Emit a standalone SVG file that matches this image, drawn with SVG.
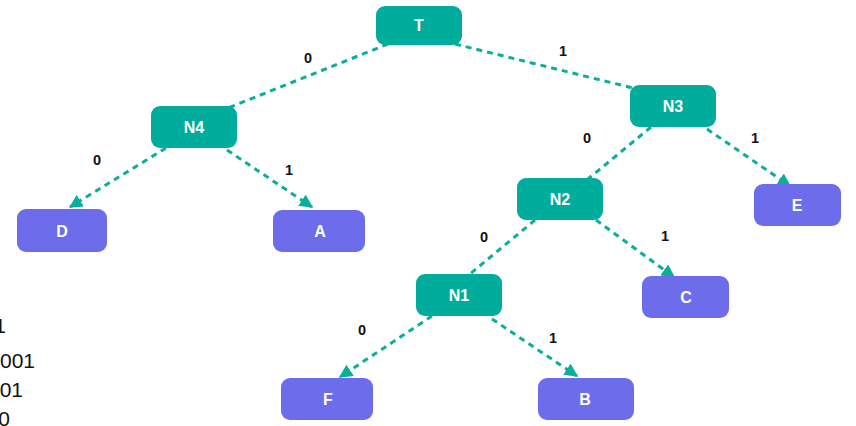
<svg xmlns="http://www.w3.org/2000/svg" width="856" height="426" viewBox="0 0 856 426">
<style>
.inner rect{fill:#00AC9B}
.leaf rect{fill:#6D6DEC}
.node text{fill:#fff;font-family:"Liberation Sans",Arial,sans-serif;font-weight:bold;font-size:16px;text-anchor:middle}
.edge{stroke:#0AAE9C;stroke-width:3;stroke-dasharray:6 5;fill:none}
.lbl{font-family:"Liberation Sans",Arial,sans-serif;font-weight:bold;font-size:14.5px;fill:#111;text-anchor:middle}
.code{font-family:"Liberation Sans",Arial,sans-serif;font-size:21px;fill:#111;text-anchor:end}
</style>
<defs>
<marker id="arr" viewBox="0 0 10 10" refX="9" refY="5" markerWidth="4.5" markerHeight="4.5" orient="auto" markerUnits="strokeWidth">
<path d="M0,0 L10,5 L0,10 z" fill="#0AAE9C"/>
</marker>
</defs>
<rect width="856" height="426" fill="#fff"/>
<g id="connectors">
<line class="edge" x1="388" y1="44" x2="228" y2="108"/>
<line class="edge" x1="455" y1="44" x2="641" y2="90"/>
<line class="edge" x1="166" y1="148" x2="70" y2="207" marker-end="url(#arr)"/>
<line class="edge" x1="227" y1="150" x2="312" y2="207" marker-end="url(#arr)"/>
<line class="edge" x1="651" y1="127" x2="588" y2="179"/>
<line class="edge" x1="707" y1="129" x2="790" y2="186" marker-end="url(#arr)"/>
<line class="edge" x1="535" y1="220" x2="470" y2="274"/>
<line class="edge" x1="596" y1="220" x2="674" y2="277" marker-end="url(#arr)"/>
<line class="edge" x1="432" y1="316" x2="340" y2="377" marker-end="url(#arr)"/>
<line class="edge" x1="492" y1="319" x2="577" y2="376" marker-end="url(#arr)"/>
<text class="lbl" x="308" y="63">0</text>
<text class="lbl" x="563" y="56">1</text>
<text class="lbl" x="97" y="165">0</text>
<text class="lbl" x="289" y="175">1</text>
<text class="lbl" x="587" y="143">0</text>
<text class="lbl" x="755" y="143">1</text>
<text class="lbl" x="484" y="242">0</text>
<text class="lbl" x="665" y="241">1</text>
<text class="lbl" x="362" y="335">0</text>
<text class="lbl" x="553" y="343">1</text>
</g>
<g id="T" class="node inner"><rect x="376" y="6" width="86" height="39" rx="9"/><text x="419" y="31">T</text></g>
<g id="N4" class="node inner"><rect x="151" y="106" width="86" height="42" rx="9"/><text x="194" y="133">N4</text></g>
<g id="N3" class="node inner"><rect x="630" y="85" width="86" height="42" rx="9"/><text x="673" y="112">N3</text></g>
<g id="N2" class="node inner"><rect x="517" y="178" width="86" height="42" rx="9"/><text x="560" y="205">N2</text></g>
<g id="N1" class="node inner"><rect x="416" y="274" width="86" height="42" rx="9"/><text x="459" y="301">N1</text></g>
<g id="D" class="node leaf"><rect x="17" y="209" width="90" height="43" rx="9"/><text x="62" y="237">D</text></g>
<g id="A" class="node leaf"><rect x="273" y="210" width="92" height="42" rx="9"/><text x="320" y="237">A</text></g>
<g id="E" class="node leaf"><rect x="754" y="184" width="87" height="42" rx="9"/><text x="797" y="211">E</text></g>
<g id="C" class="node leaf"><rect x="642" y="276" width="87" height="42" rx="9"/><text x="686" y="303">C</text></g>
<g id="F" class="node leaf"><rect x="281" y="378" width="92" height="42" rx="9"/><text x="328" y="405">F</text></g>
<g id="B" class="node leaf"><rect x="538" y="378" width="96" height="42" rx="9"/><text x="585" y="405">B</text></g>
<g id="codes">
<text class="code" x="6" y="333">1</text>
<text class="code" x="35" y="368">001</text>
<text class="code" x="23" y="397">01</text>
<text class="code" x="10" y="426">0</text>
</g>
</svg>
